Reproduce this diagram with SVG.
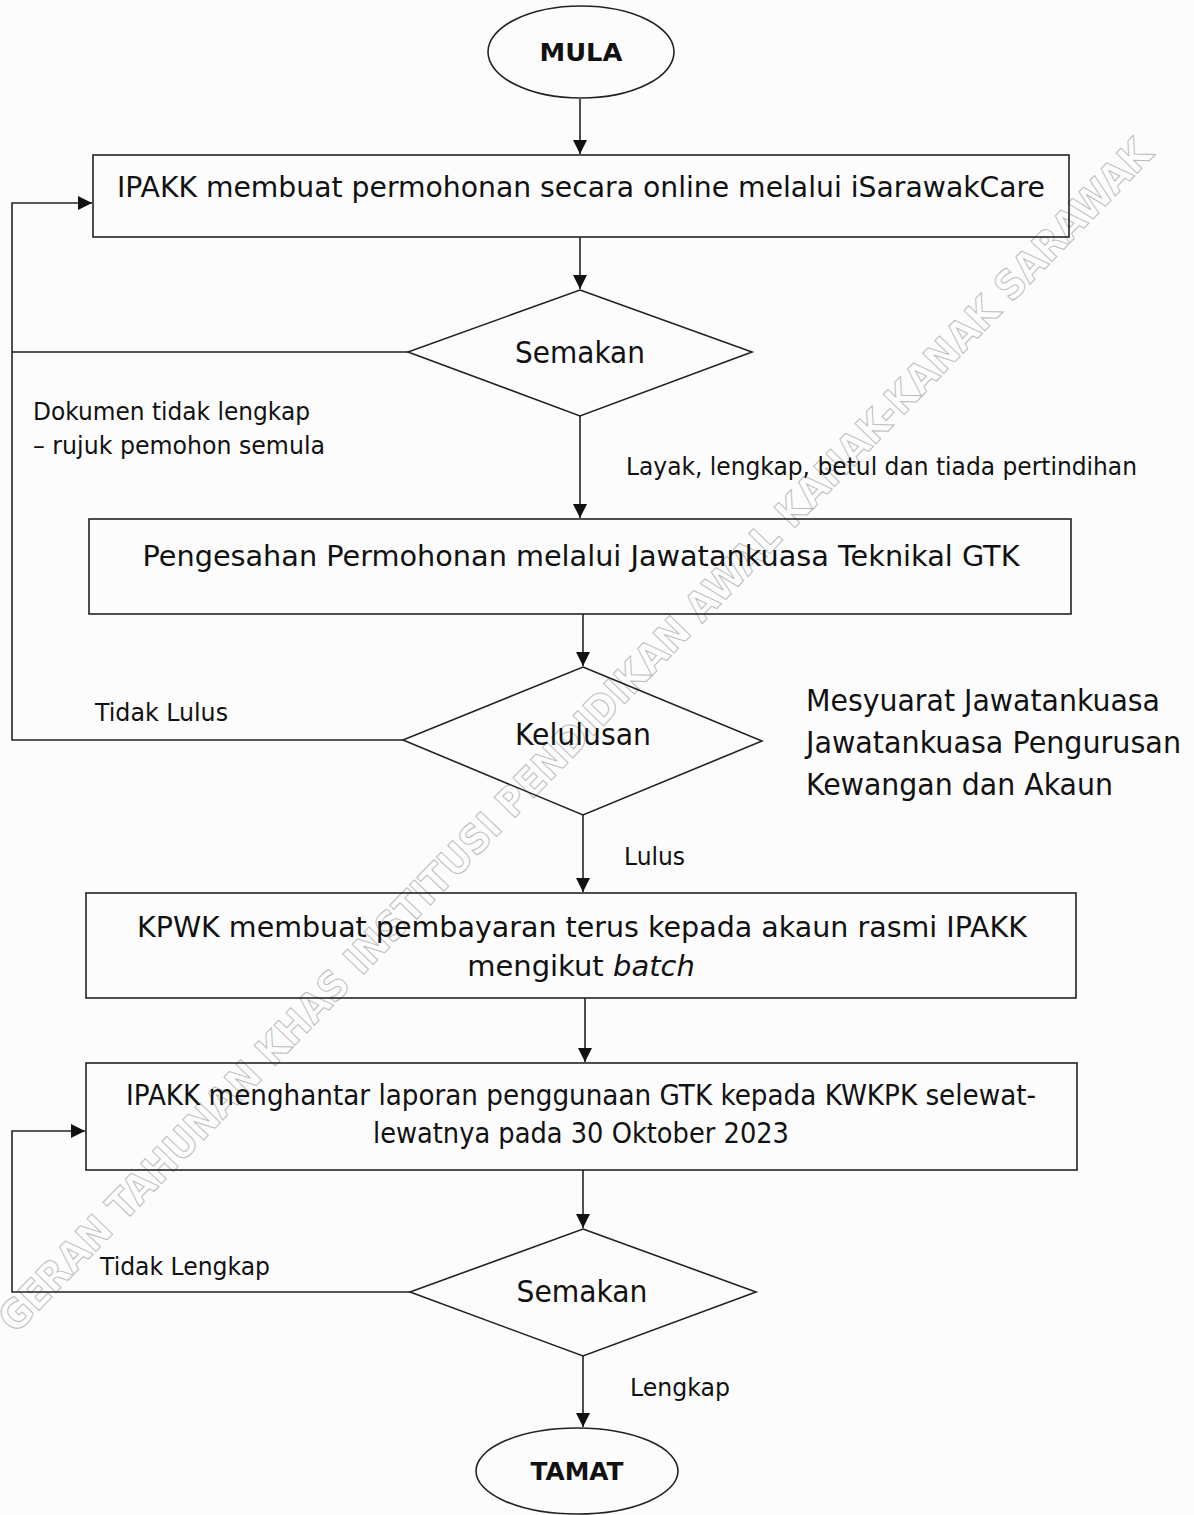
<svg xmlns="http://www.w3.org/2000/svg" width="1194" height="1515" viewBox="0 0 1194 1515">
<defs>
<style>
.bg{fill:#fcfcfd}
.shape{fill:none;stroke:#222;stroke-width:1.6}
.conn{fill:none;stroke:#222;stroke-width:1.6}
.t{font-family:"DejaVu Sans","Liberation Sans",sans-serif;fill:#111}
.big{font-size:29px}
.mid{font-size:30px}
.lbl{font-size:24px}
.term{font-size:25px;font-weight:bold}
.wm{font-family:"DejaVu Sans","Liberation Sans",sans-serif;font-size:40px;font-weight:bold;fill:none;stroke:#bbb;stroke-width:1}
</style>
<marker id="ah" viewBox="0 0 10 10" refX="10" refY="5" markerWidth="14" markerHeight="14" markerUnits="userSpaceOnUse" orient="auto">
<path d="M0,0 L10,5 L0,10 z" fill="#111"/>
</marker>
</defs>
<rect class="bg" x="0" y="0" width="1194" height="1515"/>

<g id="watermark">
<text class="wm" x="585" y="745" text-anchor="middle" textLength="1640" lengthAdjust="spacingAndGlyphs" transform="rotate(-46 585 745)">GERAN TAHUNAN KHAS INSTITUSI PENDIDIKAN AWAL KANAK-KANAK SARAWAK</text>
</g>

<g id="connectors">
<path class="conn" d="M580,99 V154" marker-end="url(#ah)"/>
<path class="conn" d="M580,237 V289" marker-end="url(#ah)"/>
<path class="conn" d="M580,416 V518" marker-end="url(#ah)"/>
<path class="conn" d="M583,614 V666" marker-end="url(#ah)"/>
<path class="conn" d="M583,815 V892" marker-end="url(#ah)"/>
<path class="conn" d="M585,998 V1062" marker-end="url(#ah)"/>
<path class="conn" d="M583,1170 V1228" marker-end="url(#ah)"/>
<path class="conn" d="M583,1356 V1427" marker-end="url(#ah)"/>
<path class="conn" d="M408,352 H12"/>
<path class="conn" d="M403,740 H12 V203 H92" marker-end="url(#ah)"/>
<path class="conn" d="M410,1292 H12 V1131 H85" marker-end="url(#ah)"/>
<text class="t lbl" x="33" y="420" textLength="277" lengthAdjust="spacingAndGlyphs">Dokumen tidak lengkap</text>
<text class="t lbl" x="33" y="454" textLength="292" lengthAdjust="spacingAndGlyphs">– rujuk pemohon semula</text>
<text class="t lbl" x="626" y="475" textLength="511" lengthAdjust="spacingAndGlyphs">Layak, lengkap, betul dan tiada pertindihan</text>
<text class="t lbl" x="95" y="721" textLength="133" lengthAdjust="spacingAndGlyphs">Tidak Lulus</text>
<text class="t lbl" x="624" y="865" textLength="61" lengthAdjust="spacingAndGlyphs">Lulus</text>
<text class="t lbl" x="100" y="1275" textLength="170" lengthAdjust="spacingAndGlyphs">Tidak Lengkap</text>
<text class="t lbl" x="630" y="1396" textLength="100" lengthAdjust="spacingAndGlyphs">Lengkap</text>
</g>

<g id="mula">
<ellipse class="shape" cx="581" cy="52" rx="93" ry="46"/>
<text class="t term" x="581" y="61" text-anchor="middle" textLength="83" lengthAdjust="spacingAndGlyphs">MULA</text>
</g>

<g id="box1">
<rect class="shape" x="93" y="155" width="976" height="82"/>
<text class="t big" x="581" y="197" text-anchor="middle" textLength="928" lengthAdjust="spacingAndGlyphs">IPAKK membuat permohonan secara online melalui iSarawakCare</text>
</g>

<g id="semakan1">
<polygon class="shape" points="580,290 752,352 580,416 408,352"/>
<text class="t mid" x="580" y="363" text-anchor="middle" textLength="130" lengthAdjust="spacingAndGlyphs">Semakan</text>
</g>

<g id="box2">
<rect class="shape" x="89" y="519" width="982" height="95"/>
<text class="t big" x="581" y="566" text-anchor="middle" textLength="877" lengthAdjust="spacingAndGlyphs">Pengesahan Permohonan melalui Jawatankuasa Teknikal GTK</text>
</g>

<g id="kelulusan">
<polygon class="shape" points="583,667 762,741 583,815 403,740"/>
<text class="t mid" x="583" y="745" text-anchor="middle" textLength="136" lengthAdjust="spacingAndGlyphs">Kelulusan</text>
</g>

<g id="note">
<text class="t mid" x="806" y="711" textLength="354" lengthAdjust="spacingAndGlyphs">Mesyuarat Jawatankuasa</text>
<text class="t mid" x="806" y="753" textLength="375" lengthAdjust="spacingAndGlyphs">Jawatankuasa Pengurusan</text>
<text class="t mid" x="806" y="795" textLength="307" lengthAdjust="spacingAndGlyphs">Kewangan dan Akaun</text>
</g>

<g id="box3">
<rect class="shape" x="86" y="893" width="990" height="105"/>
<text class="t big" x="582" y="937" text-anchor="middle" textLength="890" lengthAdjust="spacingAndGlyphs">KPWK membuat pembayaran terus kepada akaun rasmi IPAKK</text>
<text class="t big" x="581" y="976" text-anchor="middle">mengikut <tspan font-style="italic">batch</tspan></text>
</g>

<g id="box4">
<rect class="shape" x="86" y="1063" width="991" height="107"/>
<text class="t big" x="581" y="1105" text-anchor="middle" textLength="910" lengthAdjust="spacingAndGlyphs">IPAKK menghantar laporan penggunaan GTK kepada KWKPK selewat-</text>
<text class="t big" x="581" y="1143" text-anchor="middle" textLength="416" lengthAdjust="spacingAndGlyphs">lewatnya pada 30 Oktober 2023</text>
</g>

<g id="semakan2">
<polygon class="shape" points="583,1229 756,1292 583,1356 410,1292"/>
<text class="t mid" x="582" y="1302" text-anchor="middle" textLength="131" lengthAdjust="spacingAndGlyphs">Semakan</text>
</g>

<g id="tamat">
<ellipse class="shape" cx="577" cy="1471" rx="101" ry="43"/>
<text class="t term" x="577" y="1480" text-anchor="middle" textLength="93" lengthAdjust="spacingAndGlyphs">TAMAT</text>
</g>
</svg>
